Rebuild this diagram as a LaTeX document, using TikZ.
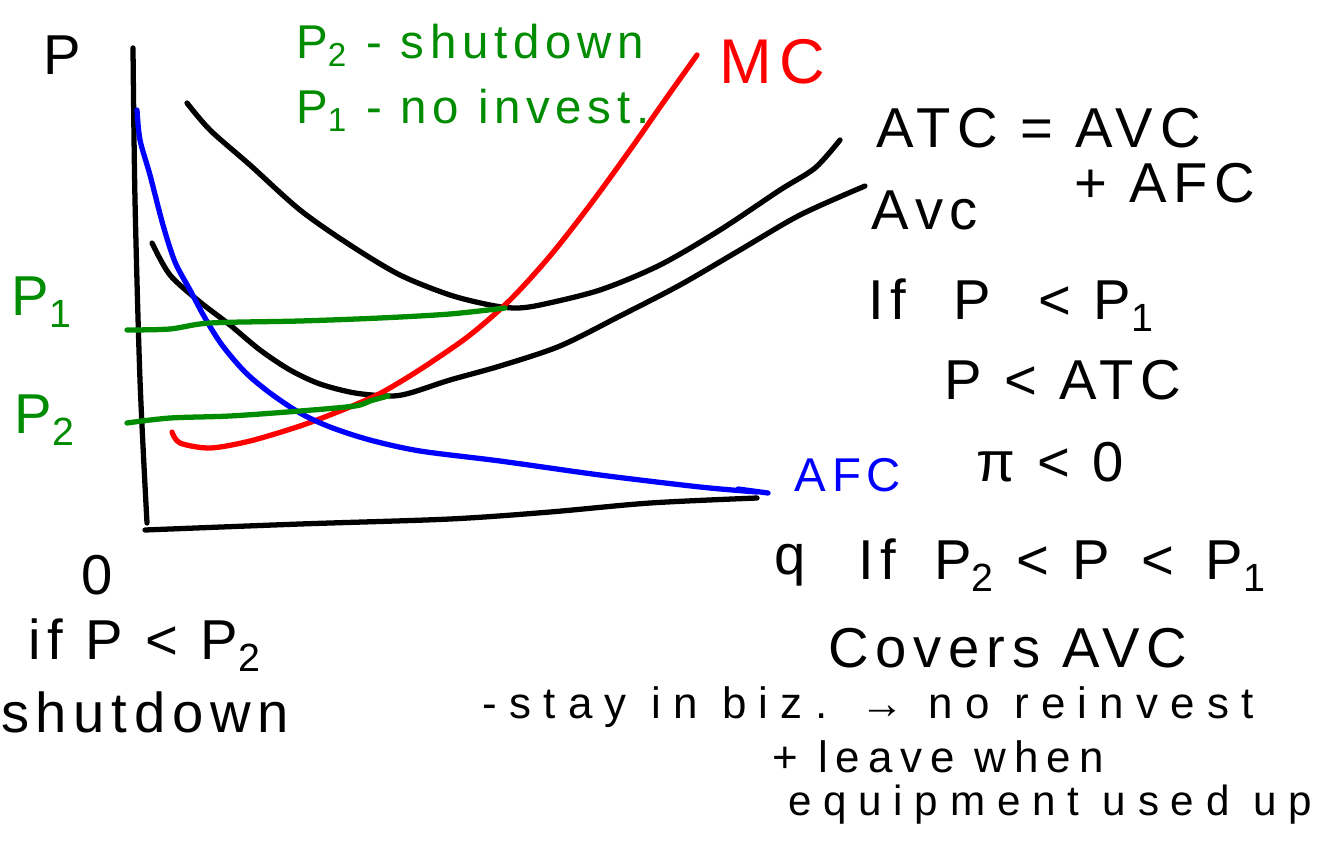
\documentclass[tikz,border=0pt]{standalone}
\usepackage{fontspec}
\setmainfont{Liberation Sans}
\newfontfamily\hand[LetterSpace=12]{Liberation Sans}
\newfontfamily\handm[LetterSpace=18]{Liberation Sans}
\newfontfamily\handw[LetterSpace=28]{Liberation Sans}
\definecolor{hgreen}{RGB}{0,140,0}
\begin{document}
\begin{tikzpicture}[x=0.02cm,y=-0.02cm,
  curve/.style={line width=3pt,line cap=round,line join=round},
  hw/.style={inner sep=0pt,font=\hand\fontsize{32}{38}\selectfont},
  hwg/.style={inner sep=0pt,font=\hand\fontsize{27}{32}\selectfont},
  hws/.style={inner sep=0pt,font=\handw\fontsize{25}{30}\selectfont}]
\fill[white] (0,0) rectangle (1334,841);
\useasboundingbox (0,0) rectangle (1334,841);
% axes
\draw[curve] plot[smooth] coordinates {(133,48) (135,200) (140,380) (147,523)};
\draw[curve] plot[smooth] coordinates {(145,530) (300,524) (450,519) (550,512) (650,503) (757,498)};
% ATC
\draw[curve] plot[smooth] coordinates {(187,103) (210,130) (250,165) (300,210) (350,245) (400,275) (450,295) (490,305) (515,308) (540,305) (600,290) (660,265) (720,230) (780,190) (815,168) (840,140)};
% AVC
\draw[curve] plot[smooth] coordinates {(152,243) (170,275) (200,302) (230,325) (260,350) (290,370) (320,384) (355,393) (390,396) (410,393) (450,380) (500,366) (560,346) (620,316) (680,285) (740,250) (800,215) (865,186)};
% MC
\draw[curve,red] plot[smooth] coordinates {(172,432) (180,443) (210,448) (250,441) (300,426) (340,411) (375,396) (400,382) (430,363) (470,335) (510,300) (550,256) (590,205) (630,150) (665,100) (697,55)};
% AFC
\draw[curve,blue] plot[smooth] coordinates {(137,110) (140,140) (150,175) (163,225) (175,262) (190,290) (205,318) (222,345) (245,372) (270,393) (300,413) (330,427) (370,440) (420,451) (500,461) (600,475) (700,487) (757,492)};
\draw[curve,blue] (738,489) -- (768,493);
% price lines
\draw[curve,hgreen] plot[smooth] coordinates {(127,330) (170,329) (210,323) (300,321) (380,318) (450,314) (505,308)};
\draw[curve,hgreen] plot[smooth] coordinates {(127,423) (170,418) (230,416) (300,411) (355,406) (370,401) (388,396)};
% labels
\node[hw] (plab) at (62,55) {P};
\node[hw,hgreen] (p1lab) at (42,302) {P\textsubscript{1}};
\node[hw,hgreen] (p2lab) at (45,420) {P\textsubscript{2}};
\node[hwg,hgreen,anchor=west] (top1) at (296,45) {P\textsubscript{2} - shutdown};
\node[hwg,hgreen,anchor=west] (top2) at (296,110) {P\textsubscript{1} - no invest.};
\node[hw,red,font=\hand\fontsize{36}{40}\selectfont] (mc) at (772,62) {MC};
\node[hw,anchor=west] (atc) at (876,128) {ATC = AVC};
\node[hw] (afcplus) at (1165,183) {+ AFC};
\node[hw] (avc) at (925,210) {Avc};
\node[hw,anchor=west] (if1) at (868,305) {If \;\,P \;\,< P\textsubscript{1}};
\node[hw] (patc) at (1063,380) {P < ATC};
\node[hw] (pi) at (1050,462) {π < 0};
\node[hwg,blue] (afc) at (848,475) {AFC};
\node[hw] (q) at (790,565) {q};
\node[hw,anchor=west] (if2) at (858,565) {If \;P\textsubscript{2} < P \,< \,P\textsubscript{1}};
\node[hw] (covers) at (1008,648) {Covers AVC};
\node[hws,anchor=west] (stay) at (482,707) {-stay in biz. → no reinvest};
\node[hws,font=\handm\fontsize{25}{30}\selectfont] (leave) at (938,757) {+ leave when};
\node[hws,font=\handw\fontsize{24}{28}\selectfont] (equip) at (1050,805) {equipment used up};
\node[hw] (zero) at (97,575) {0};
\node[hw] (ifp) at (145,645) {if P < P\textsubscript{2}};
\node[hw] (shut) at (145,712) {shutdown};
\end{tikzpicture}
\end{document}
